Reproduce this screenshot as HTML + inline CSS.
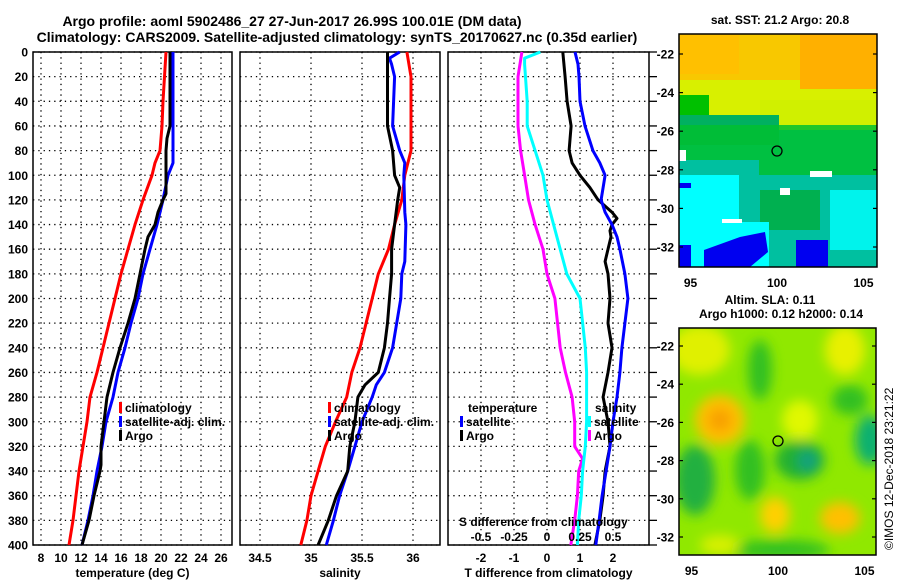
<!DOCTYPE html>
<html><head><meta charset="utf-8">
<style>
body{margin:0;background:#fff;}
svg{display:block;font-family:"Liberation Sans",Arial,sans-serif;font-weight:bold;}
</style></head>
<body>
<svg id="chart" width="900" height="580" viewBox="0 0 900 580">
<defs>
<filter id="blur6" x="-20%" y="-20%" width="140%" height="140%"><feGaussianBlur stdDeviation="6"/></filter>
<clipPath id="clipm1"><rect x="679" y="34" width="198" height="233"/></clipPath>
<clipPath id="clipm2"><rect x="679" y="328" width="197" height="227"/></clipPath>
</defs>
<g font-size="14" text-anchor="middle" fill="#000">
<text x="292" y="26">Argo profile: aoml 5902486_27 27-Jun-2017 26.99S 100.01E (DM data)</text>
<text x="337" y="42">Climatology: CARS2009. Satellite-adjusted climatology: synTS_20170627.nc (0.35d earlier)</text>
</g>
<g id="panels"></g>

<!-- SST map -->
<g>
<g clip-path="url(#clipm1)">
<rect x="679" y="34" width="198" height="233" fill="#00c0a0"/>
<rect x="679" y="34" width="198" height="50" fill="#f8c800"/>
<rect x="679" y="80" width="198" height="40" fill="#d8f000"/>
<rect x="800" y="34" width="77" height="55" fill="#ffb000"/>
<rect x="679" y="34" width="60" height="40" fill="#ffc000"/>
<rect x="679" y="95" width="30" height="20" fill="#00c000"/>
<rect x="760" y="100" width="117" height="30" fill="#d0f000"/>
<rect x="679" y="115" width="100" height="30" fill="#00b060"/>
<rect x="679" y="125" width="198" height="50" fill="#00c030" opacity="0.85"/>
<rect x="679" y="160" width="80" height="40" fill="#00c0a0"/>
<rect x="679" y="175" width="60" height="70" fill="#00ffff"/>
<rect x="760" y="190" width="60" height="40" fill="#00b050"/>
<rect x="830" y="190" width="47" height="60" fill="#00ffff" opacity="0.8"/>
<rect x="679" y="222" width="90" height="45" fill="#00ffff"/>
<polygon points="704,267 704,250 740,237 765,232 768,252 750,267" fill="#0000f0"/>
<rect x="679" y="245" width="12" height="22" fill="#0000f0"/>
<rect x="796" y="240" width="32" height="27" fill="#0000f0"/>
<rect x="679" y="183" width="12" height="5" fill="#0000f0"/>
<rect x="679" y="150" width="7" height="11" fill="#fff"/>
<rect x="810" y="171" width="22" height="6" fill="#fff"/>
<rect x="722" y="219" width="20" height="4" fill="#fff"/>
<rect x="780" y="188" width="10" height="7" fill="#fff"/>
</g>
<rect x="679" y="34" width="198" height="233" fill="none" stroke="#000" stroke-width="1.5"/>
<circle cx="777" cy="151" r="5" fill="none" stroke="#000" stroke-width="1.3"/>
<text x="780" y="24" font-size="12" text-anchor="middle">sat. SST: 21.2 Argo: 20.8</text>
</g>

<!-- SLA map -->
<g>
<g clip-path="url(#clipm2)">
<rect x="679" y="328" width="197" height="227" fill="#90e800"/>
<g filter="url(#blur6)">
<ellipse cx="700" cy="350" rx="30" ry="25" fill="#e0f000"/>
<ellipse cx="720" cy="420" rx="25" ry="25" fill="#ffc000"/>
<ellipse cx="720" cy="420" rx="12" ry="12" fill="#f8a000"/>
<ellipse cx="695" cy="480" rx="20" ry="35" fill="#20b040"/>
<ellipse cx="750" cy="470" rx="15" ry="30" fill="#30c020"/>
<ellipse cx="800" cy="460" rx="25" ry="20" fill="#20b030"/>
<ellipse cx="808" cy="461" rx="10" ry="10" fill="#10a080"/>
<ellipse cx="775" cy="515" rx="15" ry="18" fill="#ffd000"/>
<ellipse cx="840" cy="518" rx="20" ry="16" fill="#ffc000"/>
<ellipse cx="870" cy="440" rx="15" ry="25" fill="#10b070"/>
<ellipse cx="845" cy="350" rx="20" ry="25" fill="#e8f000"/>
<ellipse cx="850" cy="400" rx="18" ry="15" fill="#30c020"/>
<ellipse cx="760" cy="370" rx="12" ry="30" fill="#30c020"/>
<ellipse cx="780" cy="550" rx="50" ry="10" fill="#30c020"/>
<ellipse cx="720" cy="545" rx="20" ry="10" fill="#d8f000"/>
<ellipse cx="800" cy="420" rx="18" ry="20" fill="#e0f800"/>
</g>
</g>
<rect x="679" y="328" width="197" height="227" fill="none" stroke="#000" stroke-width="1.5"/>
<circle cx="778" cy="441" r="5" fill="none" stroke="#000" stroke-width="1.3"/>
<text x="770" y="304" font-size="12" text-anchor="middle">Altim. SLA: 0.11</text>
<text x="781" y="318" font-size="12" text-anchor="middle">Argo h1000: 0.12 h2000: 0.14</text>
</g>
<g id="mapaxes"></g>
<text transform="translate(893,550) rotate(-90)" font-size="12" font-weight="normal">©IMOS 12-Dec-2018 23:21:22</text>
</svg>
<script>
// ---- data ----
const depthTicks=[0,20,40,60,80,100,120,140,160,180,200,220,240,260,280,300,320,340,360,380,400];
const tempTicks=[8,10,12,14,16,18,20,22,24,26];
const salTicks=[34.5,35,35.5,36];
const tdiffTicks=[-2,-1,0,1,2];
const sdiffTicks=[-0.5,-0.25,0,0.25,0.5];
const sdiffTickLabels=["-0.5","-0.25","0","0.25","0.5"];

const climTDepth=[0,40,60,80,90,100,120,140,160,180,200,220,240,260,280,300,320,340,360,380,400];
const climT=[20.5,20.2,20.1,19.9,19.4,19.1,18.2,17.4,16.7,16.0,15.4,14.8,14.2,13.6,12.9,12.6,12.2,11.8,11.5,11.2,10.8];
const satTDepth=[0,90,100,120,140,160,180,200,220,240,260,280,300,320,340,360,380,400];
const satT=[21.2,21.2,20.7,20.2,19.6,18.9,18.2,17.7,17.0,16.4,15.7,15.2,14.5,14.1,13.6,13.2,12.7,12.1];
const argoTDepth=[0,60,70,80,100,115,120,130,140,150,160,180,200,220,240,260,280,300,320,335,340,360,380,400];
const argoT=[20.9,20.9,20.6,20.5,20.5,20.5,20.2,19.7,19.4,18.7,18.4,17.9,17.4,16.7,15.9,15.2,14.6,14.3,14.0,14.0,13.9,13.3,12.8,12.1];

const climSDepth=[0,20,80,90,100,120,140,160,180,200,220,240,260,280,300,320,340,360,380,400];
const climS=[35.94,35.98,35.98,35.95,35.92,35.89,35.82,35.76,35.66,35.6,35.54,35.48,35.4,35.35,35.24,35.14,35.07,35.0,34.96,34.9];
const satSDepth=[0,5,10,20,60,80,90,100,130,140,170,180,200,220,240,260,270,280,300,320,340,360,380,400];
const satS=[35.87,35.77,35.79,35.82,35.8,35.87,35.92,35.91,35.92,35.93,35.92,35.89,35.88,35.84,35.8,35.72,35.64,35.6,35.5,35.43,35.36,35.28,35.22,35.15];
const argoSDepth=[0,60,80,100,110,120,140,160,180,200,220,240,260,270,280,300,320,340,360,380,400];
const argoS=[35.75,35.75,35.8,35.82,35.87,35.85,35.82,35.79,35.79,35.77,35.75,35.72,35.66,35.53,35.46,35.43,35.38,35.36,35.25,35.17,35.07];

const dTDepth=[0,20,40,60,70,80,90,100,110,120,125,130,135,140,145,150,160,170,180,200,220,240,260,280,300,320,340,360,380,400];
const argoTDiff=[0.48,0.55,0.61,0.73,0.7,0.67,0.76,1.0,1.3,1.55,1.76,1.97,2.12,1.97,1.91,1.94,1.85,1.76,1.85,1.91,1.85,1.97,1.85,1.7,1.85,1.91,1.76,1.7,1.6,1.45];
const satTDiffDepth=[0,10,20,40,60,80,90,100,110,120,130,140,150,160,180,200,220,240,260,280,300,320,340,360,380,400];
const satTDiff=[0.85,0.94,0.97,1.0,1.15,1.39,1.6,1.76,1.7,1.64,1.76,1.97,2.12,2.21,2.36,2.45,2.36,2.27,2.21,2.12,2.0,1.91,1.79,1.67,1.58,1.48];
const argoSDiffDepth=[0,20,60,80,100,120,140,160,180,200,240,260,280,300,320,330,340,360,380,400];
const argoSDiff=[-0.19,-0.22,-0.22,-0.2,-0.17,-0.14,-0.09,-0.03,0,0.06,0.1,0.14,0.19,0.21,0.21,0.27,0.24,0.23,0.21,0.18];
const satSDiffDepth=[0,5,10,40,60,80,100,120,140,160,180,200,240,260,280,300,320,340,360,380,400];
const satSDiff=[-0.05,-0.17,-0.17,-0.15,-0.15,-0.09,-0.03,0,0.05,0.1,0.15,0.25,0.29,0.3,0.3,0.3,0.29,0.27,0.26,0.24,0.23];

const mapLatTicks=[-22,-24,-26,-28,-30,-32];
const mapLonTicks=[95,100,105];

// ---- drawing ----
const NS='http://www.w3.org/2000/svg';
const root=document.getElementById('panels');
function mk(tag,attrs,parent){const e=document.createElementNS(NS,tag);for(const k in attrs)e.setAttribute(k,attrs[k]);(parent||root).appendChild(e);return e;}
const TOP=52,BOT=545;
const yD=d=>TOP+d*(BOT-TOP)/400;
const xT=v=>41+(v-8)*10;
const xS=v=>311+(v-35)*102;
const xTD=v=>547+v*33;
const xSD=v=>547+v*132;

function panel(name,x0,x1,xticks,xf,labels,title){
  const g=mk('g',{});
  
  
  for(const d of depthTicks){const l=mk('line',{x1:x0,x2:x1,y1:yD(d),y2:yD(d),stroke:'#000','stroke-width':1.3,'stroke-dasharray':'1.3,4'},g);}
  xticks.forEach((t,i)=>{const l=mk('line',{x1:xf(t),x2:xf(t),y1:TOP,y2:BOT,stroke:'#000','stroke-width':1.3,'stroke-dasharray':'1.3,4'},g);
    const tx=mk('text',{x:xf(t),y:562,'font-size':12,'text-anchor':'middle'},g);tx.textContent=labels[i];});
  const r=mk('rect',{x:x0,y:TOP,width:x1-x0,height:BOT-TOP,fill:'none',stroke:'#000','stroke-width':1.5},g);
  
  const tt=mk('text',{x:(x0+x1)/2,y:577,'font-size':12,'text-anchor':'middle'},g);tt.textContent=title;
  
  return g;
}
function line(g,name,depths,vals,xf,color){
  const pts=depths.map((d,i)=>xf(vals[i]).toFixed(1)+','+yD(d).toFixed(1)).join(' ');
  const p=mk('polyline',{points:pts,fill:'none',stroke:color,'stroke-width':3,'stroke-linejoin':'round'},g);
  
}
function legend(g,x,y,color,label){
  const r=mk('rect',{x:x,y:y-10,width:3,height:11,fill:color},g);
  
  const t=mk('text',{x:x+6,y:y,'font-size':12},g);t.textContent=label;
  
}

const ya=mk('g',{});
for(const d of depthTicks){const t=mk('text',{x:28,y:yD(d)+4.5,'font-size':12,'text-anchor':'end'},ya);t.textContent=d;}

const g1=panel('temperature-panel',33,232,tempTicks,xT,tempTicks.map(String),'temperature (deg C)');
line(g1,'climatology-temperature-line',climTDepth,climT,xT,'#ff0000');
line(g1,'satellite-temperature-line',satTDepth,satT,xT,'#0000ff');
line(g1,'argo-temperature-line',argoTDepth,argoT,xT,'#000');
legend(g1,119,412,'#ff0000','climatology');
legend(g1,119,426,'#0000ff','satellite-adj. clim.');
legend(g1,119,440,'#000','Argo');

const g2=panel('salinity-panel',240,440,salTicks,xS,salTicks.map(String),'salinity');
line(g2,'climatology-salinity-line',climSDepth,climS,xS,'#ff0000');
line(g2,'satellite-salinity-line',satSDepth,satS,xS,'#0000ff');
line(g2,'argo-salinity-line',argoSDepth,argoS,xS,'#000');
legend(g2,328,412,'#ff0000','climatology');
legend(g2,328,426,'#0000ff','satellite-adj. clim.');
legend(g2,328,440,'#000','Argo');

const g3=panel('difference-panel',448,649,tdiffTicks,xTD,tdiffTicks.map(String),'T difference from climatology');
for(const d of depthTicks){const l=mk('line',{x1:649,x2:657,y1:yD(d),y2:yD(d),stroke:'#000','stroke-width':1.3},g3);}
line(g3,'argo-salinity-diff-line',argoSDiffDepth,argoSDiff,xSD,'#ff00ff');
line(g3,'satellite-salinity-diff-line',satSDiffDepth,satSDiff,xSD,'#00ffff');
line(g3,'argo-temperature-diff-line',dTDepth,argoTDiff,xTD,'#000');
line(g3,'satellite-temperature-diff-line',satTDiffDepth,satTDiff,xTD,'#0000ff');
let t=mk('text',{x:468,y:412,'font-size':12},g3);t.textContent='temperature';
t=mk('text',{x:595,y:412,'font-size':12},g3);t.textContent='salinity';
legend(g3,460,426,'#0000ff','satellite');
legend(g3,460,440,'#000','Argo');
legend(g3,588,426,'#00ffff','satellite');
legend(g3,588,440,'#ff00ff','Argo');
t=mk('text',{x:459,y:526,'font-size':12},g3);t.textContent='S difference from climatology';
sdiffTicks.forEach((v,i)=>{const s=mk('text',{x:xSD(v),y:541,'font-size':12,'text-anchor':'middle'},g3);s.textContent=sdiffTickLabels[i];});

const ma=document.getElementById('mapaxes');
function mapAxes(latY0,latStep,lonX,bottomLabelY,right){
  for(const la of mapLatTicks){const y=latY0+(-22-la)*latStep;
    const tx=mk('text',{x:674,y:y+4.5,'font-size':12,'text-anchor':'end'},ma);tx.textContent=la;
    mk('line',{x1:right-4,x2:right,y1:y,y2:y,stroke:'#000','stroke-width':1.2},ma);
    mk('line',{x1:679,x2:683,y1:y,y2:y,stroke:'#000','stroke-width':1.2},ma);}
  for(const lo of mapLonTicks){const x=lonX(lo);
    const tx=mk('text',{x:x,y:bottomLabelY,'font-size':12,'text-anchor':'middle'},ma);tx.textContent=lo;}
}
mapAxes(54,19.3,lo=>777+(lo-100)*17.3,287,877);
mapAxes(346,19.1,lo=>778+(lo-100)*17.3,575,876);
</script>
</body></html>
